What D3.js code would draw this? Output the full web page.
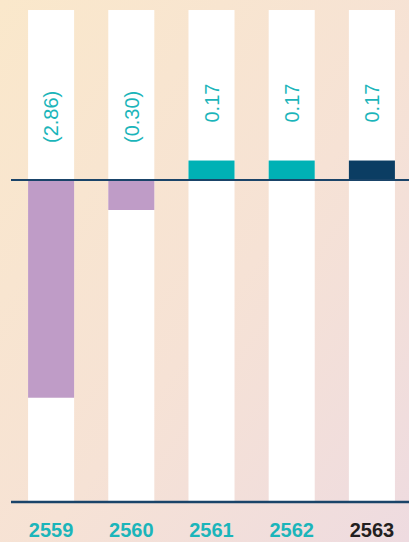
<!DOCTYPE html>
<html>
<head>
<meta charset="utf-8">
<script src="https://cdn.jsdelivr.net/npm/d3@7"></script>
<style>
  html, body { margin: 0; padding: 0; }
  svg { display: block; }
</style>
</head>
<body>
<div id="bar"></div>
<script>
// data
var years = ["2559", "2560", "2561", "2562", "2563"];
var values = [-2.86, -0.30, 0.17, 0.17, 0.17];
var labels = ["(2.86)", "(0.30)", "0.17", "0.17", "0.17"];

var width = 409;
var height = 542;
var zeroY = 180;       // zero line
var colTop = 10;       // top of the white columns
var baseY = 502;       // bottom line

var svg = d3.select("#bar").append("svg")
  .attr("width", width)
  .attr("height", height);

// background gradient
var grad = svg.append("defs").append("linearGradient")
  .attr("id", "bg")
  .attr("x1", 0).attr("y1", 0)
  .attr("x2", 1).attr("y2", 1);
grad.append("stop").attr("offset", "0%").attr("stop-color", "#fae8cb");
grad.append("stop").attr("offset", "55%").attr("stop-color", "#f6e2d5");
grad.append("stop").attr("offset", "100%").attr("stop-color", "#eedbe0");

svg.append("rect")
  .attr("width", width)
  .attr("height", height)
  .attr("fill", "url(#bg)");

// x scale
var x = d3.scaleBand()
  .domain(years)
  .range([11, 412])
  .paddingInner(0.426)
  .paddingOuter(0.213);

// magnitude scale (bars start with a small stub)
var h = d3.scaleLinear()
  .domain([0, 3])
  .range([7, 227]);

var data = years.map(function (d, i) {
  return { year: d, value: values[i], label: labels[i] };
});

function barColor(d) {
  if (d.value < 0) return "#bf9cc7";
  if (d.year === "2563") return "#0b3d63";
  return "#00b1b5";
}

// white columns
svg.selectAll(".col")
  .data(data)
  .enter().append("rect")
  .attr("class", "col")
  .attr("x", function (d) { return x(d.year); })
  .attr("y", colTop)
  .attr("width", x.bandwidth())
  .attr("height", baseY - colTop)
  .attr("fill", "#ffffff");

// bars
svg.selectAll(".bar")
  .data(data)
  .enter().append("rect")
  .attr("class", "bar")
  .attr("x", function (d) { return x(d.year); })
  .attr("y", function (d) { return d.value >= 0 ? zeroY - h(d.value) : zeroY + 1; })
  .attr("width", x.bandwidth())
  .attr("height", function (d) { return h(Math.abs(d.value)); })
  .attr("fill", barColor);

// zero line
svg.append("line")
  .attr("x1", 11).attr("x2", width)
  .attr("y1", zeroY).attr("y2", zeroY)
  .attr("stroke", "#1a4469")
  .attr("stroke-width", 2);

// value labels, rotated
svg.selectAll(".val")
  .data(data)
  .enter().append("text")
  .attr("class", "val")
  .attr("transform", function (d) {
    var cx = x(d.year) + x.bandwidth() / 2;
    var y0 = d.value >= 0 ? zeroY - h(d.value) - 38 : zeroY - 37;
    return "translate(" + cx + "," + y0 + ") rotate(-90)";
  })
  .attr("dy", "0.36em")
  .attr("text-anchor", "start")
  .style("font-family", "'Liberation Sans', Arial, sans-serif")
  .style("font-size", "20px")
  .attr("fill", "#1bb5ba")
  .text(function (d) { return d.label; });

// bottom axis
var xAxis = d3.axisBottom(x).tickSize(0).tickPadding(21);
var ax = svg.append("g")
  .attr("class", "x axis")
  .attr("transform", "translate(0," + baseY + ")")
  .call(xAxis);
ax.select(".domain").remove();
ax.append("line")
  .attr("x1", 11).attr("x2", width)
  .attr("y1", 0).attr("y2", 0)
  .attr("stroke", "#1a4469")
  .attr("stroke-width", 2.5);
ax.selectAll(".tick text")
  .style("font-family", "'Liberation Sans', Arial, sans-serif")
  .style("font-size", "20px")
  .style("font-weight", "bold")
  .attr("fill", function (d) { return d === "2563" ? "#231f20" : "#1bb5ba"; });
</script>
</body>
</html>
